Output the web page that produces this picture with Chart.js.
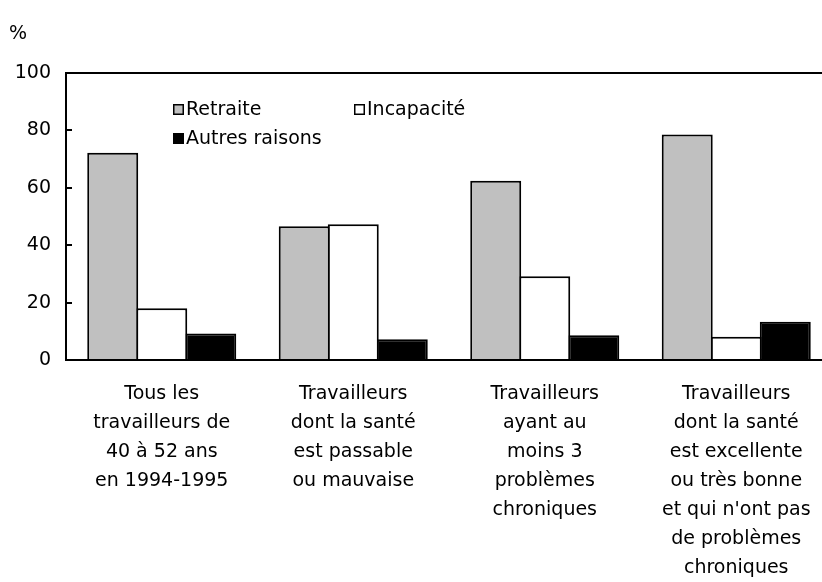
<!DOCTYPE html>
<html lang="fr">
<head>
<meta charset="utf-8">
<title>Raisons de la sortie du marché du travail</title>
<script src="https://cdn.jsdelivr.net/npm/chart.js@4.4.1/dist/chart.umd.min.js"></script>
<style>
  html, body { margin: 0; padding: 0; background: #fff; overflow: hidden; }
  #wrap { width: 840px; height: 582px; }
</style>
</head>
<body>
<div id="wrap"><canvas id="chart" width="840" height="582"></canvas></div>
<script>
// Categories (multi-line labels under each group)
const categories = [
  ["Tous les", "travailleurs de", "40 à 52 ans", "en 1994-1995"],
  ["Travailleurs", "dont la santé", "est passable", "ou mauvaise"],
  ["Travailleurs", "ayant au", "moins 3", "problèmes", "chroniques"],
  ["Travailleurs", "dont la santé", "est excellente", "ou très bonne", "et qui n'ont pas", "de problèmes", "chroniques"]
];

// Series values, in %
const seriesNames = ["Retraite", "Incapacité", "Autres raisons"];
const retraite   = [72.2, 46.6, 62.5, 78.6];
const incapacite = [18.0, 47.3, 29.2, 8.1];
const autres     = [9.2, 7.2, 8.6, 13.3];

// Y axis ticks
const yTicks = [0, 20, 40, 60, 80, 100];
const unitLabel = "%";

const FONT = "'DejaVu Sans', sans-serif";
const FONT_SIZE = 19;

// Frame line along the top of the plot, unit label and the in-plot legend
const decorations = {
  id: 'decorations',
  afterDraw(chart) {
    const { ctx, chartArea, scales } = chart;
    ctx.save();
    // top frame line at the axis maximum
    const yTop = Math.round(scales.y.getPixelForValue(yTicks[yTicks.length - 1]));
    ctx.strokeStyle = '#000';
    ctx.lineWidth = 2;
    ctx.beginPath();
    ctx.moveTo(chartArea.left - 1, yTop);
    ctx.lineTo(chart.width, yTop);
    ctx.stroke();

    // unit label
    ctx.fillStyle = '#000';
    ctx.font = FONT_SIZE + 'px ' + FONT;
    ctx.textAlign = 'left';
    ctx.textBaseline = 'middle';
    ctx.fillText(unitLabel, 9, 34);

    // legend: two items on the first row, one on the second
    const slots = [
      { x: chartArea.left + 107, y: chartArea.top + 31 },
      { x: chartArea.left + 288, y: chartArea.top + 31 },
      { x: chartArea.left + 107, y: chartArea.top + 60 }
    ];
    const box = 11;
    chart.data.datasets.forEach((ds, i) => {
      const s = slots[i];
      ctx.fillStyle = ds.backgroundColor;
      ctx.fillRect(s.x, s.y, box, box);
      ctx.strokeStyle = '#000';
      ctx.lineWidth = 1.5;
      ctx.strokeRect(s.x + 0.75, s.y + 0.75, box - 1.5, box - 1.5);
      ctx.fillStyle = '#000';
      ctx.textBaseline = 'middle';
      ctx.fillText(ds.label, s.x + box + 2, s.y + box / 2 + 0.5);
    });
    ctx.restore();
  }
};

const ctx = document.getElementById('chart').getContext('2d');
new Chart(ctx, {
  type: 'bar',
  data: {
    labels: categories,
    datasets: [
      { label: seriesNames[0], data: retraite,   backgroundColor: '#c0c0c0' },
      { label: seriesNames[1], data: incapacite, backgroundColor: '#ffffff' },
      { label: seriesNames[2], data: autres,     backgroundColor: '#000000' }
    ]
  },
  options: {
    responsive: false,
    animation: false,
    devicePixelRatio: 1,
    layout: { padding: { left: 0, top: 73, right: 8, bottom: 0 } },
    datasets: {
      bar: {
        borderColor: '#000',
        borderWidth: 2,
        borderSkipped: 'start',
        categoryPercentage: 0.768,
        barPercentage: 1.04
      }
    },
    plugins: {
      legend: { display: false },
      tooltip: { enabled: false }
    },
    scales: {
      x: {
        grid: { display: false },
        border: { display: true, color: '#000', width: 2 },
        ticks: {
          color: '#000',
          font: { family: FONT, size: FONT_SIZE, lineHeight: 1.52 },
          padding: 12,
          maxRotation: 0,
          autoSkip: false
        },
        afterFit(scale) { scale.height = 222; }
      },
      y: {
        min: 0,
        max: 100,
        grid: {
          display: true,
          drawOnChartArea: false,
          drawTicks: true,
          tickLength: -6,
          color: '#000',
          lineWidth: 2
        },
        border: { display: true, color: '#000', width: 2 },
        afterBuildTicks(scale) { scale.ticks = yTicks.map(v => ({ value: v })); },
        ticks: {
          color: '#000',
          font: { family: FONT, size: FONT_SIZE },
          padding: 21
        },
        afterFit(scale) { scale.width = 66; }
      }
    }
  },
  plugins: [decorations]
});
</script>
</body>
</html>
